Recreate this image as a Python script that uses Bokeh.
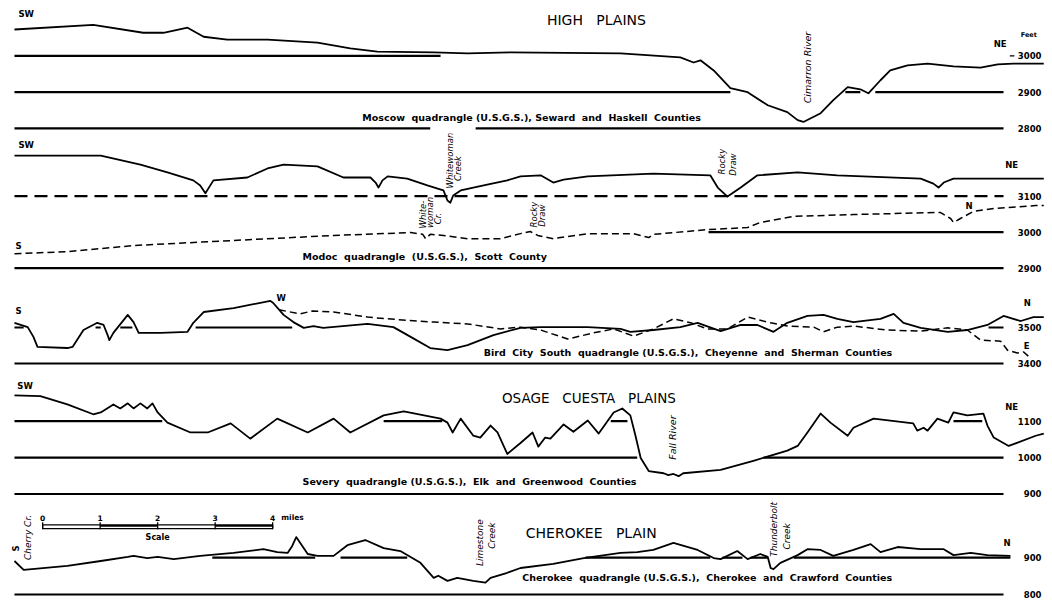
from bokeh.plotting import figure
from bokeh.layouts import column
from bokeh.models import Range1d
from bokeh.core.properties import value
from bokeh.embed import file_html
from bokeh.resources import INLINE

# ---------------- data (distance in miles, elevation in feet) ----------------
# Panel 1: High Plains, Moscow quadrangle
P1_MILES = [0.00, 1.37, 2.24, 2.59, 3.01, 3.29, 3.70, 4.40, 5.27, 5.84, 6.31, 7.29, 7.88, 8.63, 10.54,
            11.58, 11.81, 11.93, 12.16, 12.45, 12.75, 13.10, 13.44, 13.62, 13.72, 14.02, 14.24, 14.49,
            14.71, 14.85, 15.06, 15.23, 15.53, 15.88, 16.33, 16.80, 17.10, 17.37, 17.76, 17.90]
P1_FEET = [3073, 3086, 3064, 3064, 3078, 3053, 3045, 3045, 3037, 3021, 3012, 3010, 3007, 3010, 3007,
           2996, 2982, 2988, 2960, 2911, 2900, 2864, 2845, 2823, 2818, 2842, 2878, 2914,
           2908, 2897, 2933, 2960, 2974, 2979, 2971, 2968, 2977, 2979, 2979, 2979]
P1_TICKS = [3000, 2900, 2800]
P1_REF_FEET = [3000, 2900, 2900, 2900, 2800, 2800]
P1_REF_FROM = [0.00, 0.00, 14.45, 14.97, 0.00, 8.02]
P1_REF_TO = [7.41, 12.45, 14.71, 17.20, 7.23, 17.20]

# Panel 2: Modoc quadrangle, SW-NE (solid) and S-N (dashed)
P2A_MILES = [0.00, 1.50, 2.19, 2.66, 3.11, 3.23, 3.32, 3.37, 3.46, 4.05, 4.40, 4.68, 5.27, 5.72, 6.19,
             6.28, 6.33, 6.40, 6.49, 6.83, 7.18, 7.36, 7.46, 7.53, 7.58, 7.63, 7.76, 8.16, 8.57, 8.80,
             9.15, 9.37, 9.55, 9.97, 11.11, 12.10, 12.23, 12.40, 12.63, 12.92, 13.62, 14.31, 15.76,
             15.98, 16.07, 16.16, 16.33, 17.20, 17.90]
P2A_FEET = [3213, 3213, 3188, 3166, 3144, 3130, 3108, 3121, 3144, 3152, 3177, 3188, 3183, 3152, 3152,
            3138, 3124, 3144, 3155, 3149, 3130, 3121, 3116, 3088, 3082, 3102, 3116, 3130, 3144, 3155,
            3158, 3138, 3146, 3155, 3163, 3158, 3124, 3099, 3124, 3158, 3166, 3158, 3149,
            3135, 3124, 3138, 3149, 3149, 3149]
P2B_MILES = [0.00, 0.92, 2.07, 3.81, 5.55, 6.89, 7.10, 7.15, 7.23, 7.46, 7.88, 8.45, 8.80, 8.97, 9.10,
             9.37, 9.97, 10.77, 11.03, 11.11, 12.05, 12.75, 12.97, 13.55, 14.59, 16.10, 16.28, 16.33,
             16.45, 16.68, 17.03, 17.76, 17.90]
P2B_FEET = [2940, 2946, 2963, 2977, 2991, 2999, 2994, 2982, 2994, 2991, 2982, 2982, 2996, 3002, 2991,
            2982, 2996, 2996, 2985, 2994, 3007, 3013, 3027, 3044, 3049, 3055, 3038, 3027,
            3038, 3058, 3066, 3074, 3074]
P2_TICKS = [3100, 3000, 2900]
P2_DASH_REF_FEET = [3100]
P2_DASH_REF_FROM = [0.00]
P2_DASH_REF_TO = [17.20]
P2_REF_FEET = [3000, 2900]
P2_REF_FROM = [12.07, 0.00]
P2_REF_TO = [17.20, 17.20]

# Panel 3: Bird City South quadrangle, S-N (solid) and W-E (dashed)
P3A_MILES = [0.00, 0.23, 0.33, 0.40, 0.92, 1.01, 1.20, 1.44, 1.55, 1.62, 1.65, 1.72, 1.97, 2.07, 2.16,
             2.54, 3.01, 3.11, 3.29, 3.81, 4.45, 4.50, 4.68, 4.85, 5.03, 5.20, 5.37, 6.14, 6.59, 6.89,
             7.23, 7.53, 7.88, 8.33, 8.80, 9.15, 9.97, 10.54, 10.71, 11.11, 11.58, 11.88, 12.28, 12.63,
             12.92, 13.20, 13.44, 13.79, 14.07, 14.31, 14.59, 15.06, 15.29, 15.46, 15.76, 16.23, 16.57,
             16.92, 17.20, 17.37, 17.50, 17.72, 17.90]
P3A_FEET = [3513, 3501, 3474, 3446, 3443, 3446, 3493, 3513, 3507, 3479, 3465, 3485, 3535, 3515, 3485,
            3485, 3488, 3513, 3543, 3554, 3574, 3568, 3535, 3515, 3499, 3504, 3499, 3510, 3501, 3474,
            3443, 3437, 3451, 3479, 3499, 3501, 3501, 3496, 3488, 3493, 3501, 3513, 3490, 3507,
            3507, 3488, 3513, 3532, 3535, 3524, 3515, 3524, 3538, 3513, 3499, 3488, 3493,
            3507, 3532, 3524, 3518, 3529, 3529]
P3B_MILES = [4.60, 4.97, 5.18, 5.55, 6.14, 6.49, 7.29, 7.88, 8.45, 8.80, 9.15, 9.62, 10.07, 10.42, 10.77,
             11.11, 11.46, 11.76, 12.05, 12.40, 12.75, 13.15, 13.44, 13.90, 14.07, 14.31, 14.59, 15.18,
             15.76, 16.23, 16.57, 16.80, 17.15, 17.27, 17.44, 17.55, 17.67]
P3B_FEET = [3549, 3538, 3546, 3543, 3529, 3524, 3515, 3510, 3496, 3501, 3493, 3468, 3485, 3496, 3476,
            3496, 3524, 3513, 3496, 3496, 3529, 3513, 3504, 3501, 3488, 3501, 3504, 3493,
            3490, 3499, 3493, 3465, 3462, 3437, 3429, 3432, 3415]
P3_TICKS = [3500, 3400]
P3_REF_FEET = [3500, 3500, 3500, 3500, 3500, 3400]
P3_REF_FROM = [0.00, 1.41, 1.84, 3.15, 16.94, 0.00]
P3_REF_TO = [0.16, 1.50, 2.05, 4.83, 17.20, 17.20]

# Panel 4: Osage Cuesta Plains, Severy quadrangle
P4_MILES = [0.00, 0.45, 0.92, 1.37, 1.50, 1.72, 1.84, 1.97, 2.07, 2.19, 2.31, 2.40, 2.49, 2.66, 3.06,
            3.36, 3.76, 4.10, 4.57, 5.10, 5.55, 5.84, 6.42, 6.77, 7.41, 7.53, 7.62, 7.76, 7.98, 8.10,
            8.28, 8.40, 8.57, 8.80, 9.01, 9.11, 9.23, 9.32, 9.55, 9.72, 9.97, 10.16, 10.42, 10.57, 10.71,
            10.80, 10.89, 11.03, 11.29, 11.37, 11.46, 11.55, 11.63, 12.28, 12.85, 13.44, 13.62, 13.79,
            14.02, 14.19, 14.49, 14.59, 14.94, 15.63, 15.70, 15.81, 15.88, 16.05, 16.24, 16.33, 16.57,
            16.85, 16.92, 17.03, 17.29, 17.76, 17.90]
P4_FEET = [1171, 1169, 1146, 1119, 1124, 1146, 1135, 1149, 1135, 1149, 1135, 1149, 1124, 1096, 1069,
           1069, 1094, 1052, 1107, 1069, 1107, 1069, 1116, 1127, 1107, 1096, 1069, 1107, 1060, 1055,
           1088, 1069, 1010, 1040, 1069, 1030, 1055, 1052, 1091, 1071, 1102, 1066, 1124, 1135, 1116,
           1060, 999, 963, 957, 952, 955, 949, 957, 966, 991, 1019, 1032, 1069,
           1121, 1096, 1060, 1082, 1107, 1094, 1074, 1082, 1074, 1107, 1096, 1124, 1116,
           1121, 1088, 1055, 1032, 1060, 1066]
P4_TICKS = [1100, 1000, 900]
P4_REF_FEET = [1100, 1100, 1100, 1100, 1000, 1000, 900]
P4_REF_FROM = [0.00, 6.42, 10.37, 16.33, 0.00, 13.03, 0.00]
P4_REF_TO = [2.57, 7.44, 10.66, 16.83, 10.83, 17.20, 17.20]

# Panel 5: Cherokee Plain, Cherokee quadrangle
P5_MILES = [0.00, 0.16, 0.92, 1.50, 1.97, 2.07, 2.31, 2.49, 2.77, 3.23, 3.81, 4.33, 4.57, 4.75, 4.83,
            4.90, 4.97, 5.10, 5.27, 5.55, 5.79, 6.10, 6.42, 6.71, 7.06, 7.29, 7.37, 7.53, 7.70, 7.98,
            8.19, 8.28, 8.57, 8.80, 9.37, 9.90, 10.54, 10.83, 11.11, 11.46, 11.88, 12.16, 12.28, 12.57,
            12.75, 12.97, 13.10, 13.15, 13.20, 13.32, 13.62, 13.79, 14.02, 14.24, 14.59, 14.89, 15.06,
            15.36, 15.76, 16.16, 16.33, 16.63, 16.92, 17.32]
P5_FEET = [891, 867, 878, 891, 902, 905, 899, 902, 896, 905, 913, 923, 915, 913, 932,
           956, 940, 910, 905, 905, 934, 948, 926, 918, 886, 845, 851, 837, 845, 837,
           832, 845, 859, 872, 883, 899, 913, 915, 921, 940, 921, 899, 896, 918,
           896, 910, 902, 872, 869, 886, 907, 923, 921, 905, 921, 937, 915,
           929, 923, 923, 907, 913, 907, 905]
P5_TICKS = [900, 800]
P5_REF_FEET = [900, 900, 900, 900, 900, 900, 800]
P5_REF_FROM = [3.44, 5.67, 9.93, 12.31, 12.80, 13.55, 0.00]
P5_REF_TO = [5.23, 6.83, 12.10, 12.66, 13.10, 17.32, 17.20]

# Scale bar (miles)
SCALE_MILES = [0, 1, 2, 3, 4]
SCALE_ORIGIN = 0.49

# ---------------- styling / helpers ----------------
FONT = "DejaVu Sans"
W = 1050
X_START, X_END = -0.243, 18.017
LABEL_X = 17.86


def make_panel(h, y0, y1):
    p = figure(width=W, height=h, x_range=Range1d(X_START, X_END), y_range=Range1d(y0, y1),
               output_backend="svg", toolbar_location=None, x_axis_type=None, y_axis_type=None,
               min_border=0, min_border_left=0, min_border_right=0, min_border_top=0,
               min_border_bottom=0)
    p.outline_line_color = None
    p.background_fill_color = "white"
    p.border_fill_color = "white"
    p.grid.visible = False
    return p


def txt(p, xs, ys, texts, size, style="normal", align="left", angle=0.0, baseline="middle"):
    p.text(x=list(xs), y=list(ys), text=list(texts), angle=angle, text_font=value(FONT),
           text_font_size=size, text_font_style=style, text_align=align,
           text_baseline=baseline, text_color="black")


def refs(p, feet, x0, x1, dash="solid"):
    p.segment(x0=x0, y0=feet, x1=x1, y1=feet, line_color="black", line_width=2.2, line_dash=dash)


def ticks(p, vals):
    txt(p, [LABEL_X] * len(vals), vals, [str(v) for v in vals], "8.5px", "bold", align="right")


def profile(p, xs, ys, dash="solid", width=1.8):
    p.line(xs, ys, line_color="black", line_width=width, line_dash=dash, line_join="round")


ROT = 1.5708
CAP = "9.5px"
HEAD = "14px"

# ---------------- panel 1 ----------------
p1 = make_panel(133, 2786.1, 3153.0)
refs(p1, P1_REF_FEET, P1_REF_FROM, P1_REF_TO)
p1.segment(x0=[17.31], y0=[3000], x1=[17.39], y1=[3000], line_color="black", line_width=1.2)
profile(p1, P1_MILES, P1_FEET)
ticks(p1, P1_TICKS)
txt(p1, [0.07, 17.03], [3117, 3033], ["SW", "NE"], "8.5px", "bold")
txt(p1, [17.50], [3059], ["Feet"], "6.5px", "bold")
txt(p1, [10.12], [3100], ["HIGH\u00a0\u00a0\u00a0PLAINS"], HEAD, align="center")
txt(p1, [13.79], [2968], ["Cimarron River"], "9.5px", "italic", align="center", angle=ROT)
txt(p1, [6.05], [2830], ["Moscow\u00a0 quadrangle (U.S.G.S.), Seward\u00a0 and\u00a0 Haskell\u00a0 Counties"], CAP, "bold")

# ---------------- panel 2 ----------------
p2 = make_panel(142, 2879.7, 3274.2)
refs(p2, P2_DASH_REF_FEET, P2_DASH_REF_FROM, P2_DASH_REF_TO, dash="13 7")
refs(p2, P2_REF_FEET, P2_REF_FROM, P2_REF_TO)
profile(p2, P2A_MILES, P2A_FEET)
profile(p2, P2B_MILES, P2B_FEET, dash="7 4", width=1.5)
ticks(p2, P2_TICKS)
txt(p2, [0.07, 17.23, 0.02, 16.54], [3241, 3188, 2962, 3074], ["SW", "NE", "S", "N"], "8.5px", "bold")
txt(p2, [7.57, 7.72, 12.30, 12.49, 7.10, 7.23, 7.36, 9.03, 9.17],
    [3199, 3177, 3196, 3188, 3049, 3055, 3038, 3049, 3046],
    ["Whitewoman", "Creek", "Rocky", "Draw", "White-", "woman", "Cr.", "Rocky", "Draw"],
    "8.5px", "italic", align="center", angle=ROT)
txt(p2, [5.01], [2932], ["Modoc\u00a0 quadrangle\u00a0 (U.S.G.S.),\u00a0 Scott\u00a0 County"], CAP, "bold")

# ---------------- panel 3 ----------------
p3 = make_panel(96, 3377.8, 3644.4)
refs(p3, P3_REF_FEET, P3_REF_FROM, P3_REF_TO)
profile(p3, P3A_MILES, P3A_FEET)
profile(p3, P3B_MILES, P3B_FEET, dash="7 4", width=1.5)
ticks(p3, P3_TICKS)
txt(p3, [0.02, 17.55, 17.55], [3547, 3567, 3450], ["S", "N", "E"], "8.5px", "bold")
txt(p3, [4.64], [3583], ["W"], "8.5px", "bold", align="center")
txt(p3, [8.16], [3431], ["Bird\u00a0 City\u00a0 South\u00a0 quadrangle (U.S.G.S.),\u00a0 Cheyenne\u00a0 and\u00a0 Sherman\u00a0 Counties"], CAP, "bold")

# ---------------- panel 4 ----------------
p4 = make_panel(129, 882.1, 1236.5)
refs(p4, P4_REF_FEET, P4_REF_FROM, P4_REF_TO)
profile(p4, P4_MILES, P4_FEET)
ticks(p4, P4_TICKS)
txt(p4, [0.05, 17.23], [1198, 1138], ["SW", "NE"], "8.5px", "bold")
txt(p4, [9.99], [1163], ["OSAGE\u00a0\u00a0 CUESTA\u00a0\u00a0 PLAINS"], "13.5px", align="center")
txt(p4, [11.44], [1055], ["Fall River"], "9.5px", "italic", align="center", angle=ROT)
txt(p4, [5.01], [934], ["Severy\u00a0 quadrangle (U.S.G.S.),\u00a0 Elk\u00a0 and\u00a0 Greenwood\u00a0 Counties"], CAP, "bold")

# ---------------- panel 5 ----------------
p5 = make_panel(104, 772.8, 1055.4)
refs(p5, P5_REF_FEET, P5_REF_FROM, P5_REF_TO)
profile(p5, P5_MILES, P5_FEET)
ticks(p5, P5_TICKS)
txt(p5, [17.20], [939], ["N"], "8.5px", "bold")
txt(p5, [0.02], [925], ["S"], "8.5px", "bold", align="center", angle=ROT)
txt(p5, [10.03], [966], ["CHEROKEE\u00a0\u00a0 PLAIN"], HEAD, align="center")
txt(p5, [0.24, 8.09, 8.30, 13.20, 13.43], [955, 941, 960, 977, 958],
    ["Cherry Cr.", "Limestone", "Creek", "Thunderbolt", "Creek"],
    "9px", "italic", align="center", angle=ROT)
txt(p5, [8.83], [846], ["Cherokee\u00a0 quadrangle (U.S.G.S.),\u00a0 Cherokee\u00a0 and\u00a0 Crawford\u00a0 Counties"], CAP, "bold")

# scale bar
sx = [SCALE_ORIGIN + m for m in SCALE_MILES]
p5.quad(left=[sx[1], sx[3]], right=[sx[2], sx[4]], top=[989, 989], bottom=[984, 984],
        fill_color="black", line_color=None)
p5.quad(left=[sx[0]], right=[sx[-1]], top=[989], bottom=[979], fill_color=None,
        line_color="black", line_width=1.3)
p5.segment(x0=sx, y0=[977] * len(sx), x1=sx, y1=[996] * len(sx), line_color="black", line_width=1.3)
txt(p5, sx, [1009] * len(sx), [str(m) for m in SCALE_MILES], "7.5px", "bold", align="center")
txt(p5, [SCALE_ORIGIN + SCALE_MILES[-1] + 0.15], [1009], ["miles"], "7.5px", "bold")
txt(p5, [SCALE_ORIGIN + 2], [956], ["Scale"], "8px", "bold", align="center")

layout = column(p1, p2, p3, p4, p5)
open("out.html", "w").write(file_html(layout, INLINE))
